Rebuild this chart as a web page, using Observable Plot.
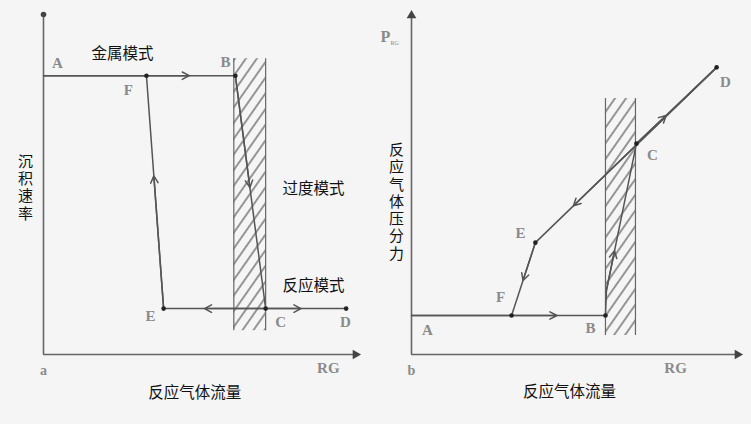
<!DOCTYPE html>
<html><head><meta charset="utf-8">
<script src="https://cdn.jsdelivr.net/npm/d3@7"></script>
<script src="https://cdn.jsdelivr.net/npm/@observablehq/plot@0.6"></script>
<style>
html,body{margin:0;padding:0;background:#f5f5f5;}
#wrap{display:flex;width:751px;height:424px;overflow:hidden;}
#wrap svg{display:block;}
</style></head><body><div id="wrap"></div>
<script>
// ---------- Panel a: deposition rate vs reactive gas flow ----------
const aNames = ["A", "F", "B", "C", "D", "E"];
const aFlow  = [0, 33, 61.5, 71.2, 97, 38.5];
const aRate  = [82, 82, 82, 13.5, 13.5, 13.5];
const aSegments = [["A", "B"], ["B", "C"], ["E", "D"], ["E", "F"]];
// direction arrows: [from, towards, fraction of the way]
const aArrows = [["A", "B", 0.76], ["B", "C", 0.48], ["E", "F", 0.57], ["C", "E", 0.6], ["C", "D", 0.44]];
const aDots = ["F", "B", "C", "D", "E"];
const aLabelNames = ["A", "F", "B", "C", "D", "E"];
const aLabelFlow  = [4.5, 27.2, 58.3, 76, 96.8, 34.3];
const aLabelRate  = [85.6, 77.6, 85.9, 9.4, 9.4, 11.2];
const aModes = ["金属模式", "过度模式", "反应模式"];
const aModeFlow = [25.3, 86.5, 86.5];
const aModeRate = [88.5, 48.8, 20];
const aHatchFlow = [61, 71.2];
const aHatchRate = [7, 87];
const aYTitle = "沉积速率";
const aXTitle = "反应气体流量";
const aTag = "a";

// ---------- Panel b: reactive gas partial pressure vs reactive gas flow ----------
const bNames = ["A", "F", "B", "B2", "C", "D", "E"];
const bFlow  = [0, 30.7, 59.5, 59.8, 69, 93.6, 38];
const bPress = [11.5, 11.5, 11.5, 18.9, 62.2, 84.7, 33];
const bSegments = [["A", "B"], ["B", "B2"], ["B2", "C"], ["C", "D"], ["D", "E"], ["E", "F"]];
const bArrows = [["A", "B", 0.75], ["B2", "C", 0.27], ["C", "D", 0.37], ["D", "E", 0.79], ["E", "F", 0.52]];
const bDots = ["F", "B", "C", "D", "E"];
const bLabelNames = ["A", "B", "F", "E", "C", "D"];
const bLabelFlow  = [4.9, 54.9, 27.3, 33.4, 73.9, 96.3];
const bLabelPress = [7.1, 7.7, 16.8, 35.7, 58.7, 80.2];
const bHatchFlow = [59.5, 68.7];
const bHatchPress = [5.6, 75.5];
const bYTitle = "反应气体压分力";
const bXTitle = "反应气体流量";
const bTag = "b";

const LINE = "#555", AX = "#666", LET = "#8a8a8a";
const serif = "Liberation Serif, DejaVu Serif, serif";
const cjk = "Noto Sans CJK SC, sans-serif";

function panel(o) {
  const P = {};
  o.names.forEach((n, i) => P[n] = {x: o.xs[i], y: o.ys[i]});
  const segs = o.segments.map(([a, b]) => ({x1: P[a].x, y1: P[a].y, x2: P[b].x, y2: P[b].y}));
  const arrs = o.arrows.map(([a, b, t]) => ({x1: P[a].x, y1: P[a].y,
    x2: P[a].x + (P[b].x - P[a].x) * t, y2: P[a].y + (P[b].y - P[a].y) * t}));
  const dots = o.dots.map(n => P[n]);
  const labels = o.labelNames.map((k, i) => ({k, x: o.labelX[i], y: o.labelY[i]}));
  const marks = [
    Plot.rect([{x1: o.hatchX[0], x2: o.hatchX[1], y1: o.hatchY[0], y2: o.hatchY[1]}],
      {x1: "x1", x2: "x2", y1: "y1", y2: "y2", fill: `url(#${o.pid})`}),
    Plot.ruleX(o.hatchX, {y1: o.hatchY[0], y2: o.hatchY[1], stroke: "#666", strokeWidth: 1.2}),
    // axes
    Plot.ruleX([0], {y1: 0, y2: 100, stroke: AX, strokeWidth: 1.6}),
    Plot.ruleY([0], {x1: 0, x2: 100, stroke: AX, strokeWidth: 1.6}),
    Plot.dot([{x: 100, y: 0}], {x: "x", y: "y", symbol: "triangle", r: 3.6, fill: "#444", rotate: 90}),
    o.topDot
      ? Plot.dot([{x: 0, y: 100}], {x: "x", y: "y", r: 2.8, fill: "#444"})
      : Plot.dot([{x: 0, y: 100}], {x: "x", y: "y", symbol: "triangle", r: 3.6, fill: "#444"}),
    // curves
    Plot.link(segs, {x1: "x1", y1: "y1", x2: "x2", y2: "y2", stroke: LINE, strokeWidth: 1.5}),
    Plot.arrow(arrs, {x1: "x1", y1: "y1", x2: "x2", y2: "y2", stroke: LINE, strokeWidth: 1.5, headLength: 8, headAngle: 55}),
    Plot.dot(dots, {x: "x", y: "y", r: 2.3, fill: "#222"}),
    // point letters
    Plot.text(labels, {x: "x", y: "y", text: "k", fill: LET, fontFamily: serif, fontWeight: "bold", fontSize: 15}),
    Plot.text([o.tag], {x: 0, y: -4.7, text: d => d, fill: LET, fontFamily: serif, fontWeight: "bold", fontSize: 14}),
    Plot.text(["RG"], {x: o.rgX, y: -4.1, text: d => d, fill: LET, fontFamily: serif, fontWeight: "bold", fontSize: 15}),
    Plot.text([o.xTitle], {x: 48.5, y: -11.2, text: d => d, fill: "#111", fontFamily: cjk, fontSize: 15.5}),
    // vertical y title (turned into upright vertical writing below)
    Plot.text([o.yTitle], {x: o.yTitleX, y: o.yTitleY, text: d => d, fill: "#111", fontFamily: cjk, fontSize: 15})
  ];
  if (o.modes) marks.push(Plot.text(o.modes, {x: (d, i) => o.modeX[i], y: (d, i) => o.modeY[i], text: d => d, fill: "#111", fontFamily: cjk, fontSize: 15.5}));
  if (o.extra) marks.push(...o.extra);
  const svg = Plot.plot({
    width: o.width, height: 424,
    marginLeft: o.ml, marginRight: o.mr, marginTop: o.mt, marginBottom: 70,
    x: {domain: [0, 100], axis: null},
    y: {domain: [0, 100], axis: null},
    style: {background: "transparent", overflow: "visible"},
    marks
  });
  d3.select(svg).selectAll("text")
    .filter(function () { return this.textContent === o.yTitle; })
    .attr("writing-mode", "vertical-rl")
    .attr("dy", null)
    .style("letter-spacing", "2.3px");
  d3.select(svg).insert("defs", ":first-child").html(
    `<pattern id="${o.pid}" patternUnits="userSpaceOnUse" width="9" height="40" patternTransform="rotate(35)">
       <line x1="1" y1="-5" x2="1" y2="45" stroke="#555" stroke-width="1.2"/>
     </pattern>`);
  return svg;
}

const wrap = document.getElementById("wrap");
wrap.appendChild(panel({
  pid: "hatchA", width: 375, ml: 43, mr: 20, mt: 14,
  names: aNames, xs: aFlow, ys: aRate, segments: aSegments, arrows: aArrows, dots: aDots,
  labelNames: aLabelNames, labelX: aLabelFlow, labelY: aLabelRate,
  modes: aModes, modeX: aModeFlow, modeY: aModeRate,
  hatchX: aHatchFlow, hatchY: aHatchRate, yTitle: aYTitle, xTitle: aXTitle, tag: aTag,
  yTitleX: -5.8, yTitleY: 50.3, rgX: 91.3, topDot: true
}));
wrap.appendChild(panel({
  pid: "hatchB", width: 376, ml: 36, mr: 14, mt: 15,
  names: bNames, xs: bFlow, ys: bPress, segments: bSegments, arrows: bArrows, dots: bDots,
  labelNames: bLabelNames, labelX: bLabelFlow, labelY: bLabelPress,
  hatchX: bHatchFlow, hatchY: bHatchPress, yTitle: bYTitle, xTitle: bXTitle, tag: bTag,
  yTitleX: -4.6, yTitleY: 46.3, rgX: 81, topDot: false,
  extra: [
    Plot.text(["P"], {x: -8, y: 93.6, text: d => d, fill: LET, fontFamily: serif, fontWeight: "bold", fontSize: 16}),
    Plot.text(["RG"], {x: -5.2, y: 92, text: d => d, fill: LET, fontFamily: serif, fontSize: 6})
  ]
}));
</script></body></html>
